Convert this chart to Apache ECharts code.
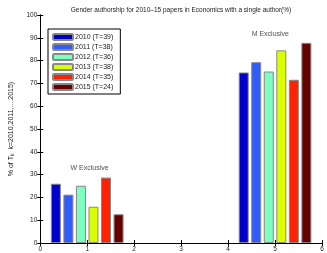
<!DOCTYPE html>
<html>
<head>
<meta charset="utf-8">
<script src="https://cdn.jsdelivr.net/npm/echarts@6/dist/echarts.min.js"></script>
<style>html,body{margin:0;padding:0;background:#fff}#c{width:327px;height:253px}</style>
</head>
<body>
<div id="c"></div>
<script>
var seriesNames = ['2010 (T=39)', '2011 (T=38)', '2012 (T=36)', '2013 (T=38)', '2014 (T=35)', '2015 (T=24)'];
var groupCenters = [1, 5];
var wExclusive = [26.0, 21.2, 25.1, 15.9, 28.7, 12.6];
var mExclusive = [74.8, 79.3, 75.2, 84.5, 71.6, 87.8];
var xTicks = [0, 1, 2, 3, 4, 5, 6];
var yTicks = [0, 10, 20, 30, 40, 50, 60, 70, 80, 90, 100];
var annotationText = ['W Exclusive', 'M Exclusive'];
var annotationX = [1.05, 4.9];
var annotationY = [33.0, 91.5];

var colors = ['#0000CC', '#2F5BFF', '#7DFFBF', '#DCFF00', '#FF2200', '#680000'];
var barStep = 0.267;
var font = 'Liberation Sans, Arial, sans-serif';

var series = seriesNames.map(function (name, i) {
  var off = (i - (seriesNames.length - 1) / 2) * barStep;
  return {
    name: name,
    type: 'bar',
    xAxisIndex: 0, yAxisIndex: 0,
    barWidth: 10,
    barGap: '-100%',
    itemStyle: { color: colors[i], borderColor: '#888', borderWidth: 1 },
    data: [[groupCenters[0] + off, wExclusive[i]], [groupCenters[1] + off, mExclusive[i]]],
    animation: false
  };
});
series.push({
  type: 'scatter',
  symbolSize: 0,
  silent: true,
  data: annotationText.map(function (t, i) { return { value: [annotationX[i], annotationY[i]], name: t }; }),
  label: { show: true, position: 'inside', formatter: '{b}', fontSize: 7, color: '#222', fontFamily: font },
  animation: false
});

var chart = echarts.init(document.getElementById('c'), null, { renderer: 'canvas' });
chart.setOption({
  backgroundColor: '#fff',
  title: {
    text: 'Gender authorship for 2010\u201315 papers in Economics with a single author(%)',
    left: 176, textAlign: 'center', top: 2,
    textStyle: { fontSize: 6.5, fontWeight: 'normal', color: '#222', fontFamily: font }
  },
  legend: {
    orient: 'vertical', left: 48, top: 29,
    data: seriesNames,
    itemWidth: 20, itemHeight: 6, itemGap: 2,
    padding: [4, 7, 3, 4],
    borderColor: '#000', borderWidth: 1, backgroundColor: '#fff',
    textStyle: { fontSize: 7, lineHeight: 7, color: '#222', fontFamily: font, padding: [0, 0, 0, -3] },
    selectedMode: false
  },
  grid: { left: 30, right: 5, top: 15, bottom: 9, containLabel: false },
  xAxis: [{
    type: 'value', min: xTicks[0], max: xTicks[xTicks.length - 1], interval: 1,
    axisLine: { lineStyle: { color: '#000', width: 1 } },
    axisTick: { inside: true, length: 3, lineStyle: { color: '#000' } },
    axisLabel: { fontSize: 6.5, color: '#222', margin: 3, fontFamily: font },
    splitLine: { show: false }
  }, {
    type: 'value', position: 'top', min: xTicks[0], max: xTicks[xTicks.length - 1], interval: 1,
    axisLine: { show: true, lineStyle: { color: '#000', width: 1 } },
    axisTick: { inside: true, length: 3, lineStyle: { color: '#000' } },
    axisLabel: { show: false }, splitLine: { show: false }
  }],
  yAxis: [{
    type: 'value', min: yTicks[0], max: yTicks[yTicks.length - 1], interval: 10,
    axisLine: { show: true, lineStyle: { color: '#000', width: 1 } },
    axisTick: { show: true, inside: true, length: 3, lineStyle: { color: '#000' } },
    axisLabel: { fontSize: 6.5, color: '#222', margin: 3, fontFamily: font },
    splitLine: { show: false },
    name: '% of T{sub|k}  k=2010,2011,....2015)',
    nameLocation: 'middle', nameGap: 20, nameRotate: 90,
    nameTextStyle: {
      fontSize: 7, color: '#222', fontFamily: font,
      rich: { sub: { fontSize: 5, verticalAlign: 'bottom', color: '#222', fontFamily: font, padding: [3, 0, 0, 0] } }
    }
  }, {
    type: 'value', position: 'right', min: yTicks[0], max: yTicks[yTicks.length - 1], interval: 10,
    axisLine: { show: true, lineStyle: { color: '#000', width: 1 } },
    axisTick: { show: true, inside: true, length: 3, lineStyle: { color: '#000' } },
    axisLabel: { show: false }, splitLine: { show: false }
  }],
  series: series
});
</script>
</body>
</html>
